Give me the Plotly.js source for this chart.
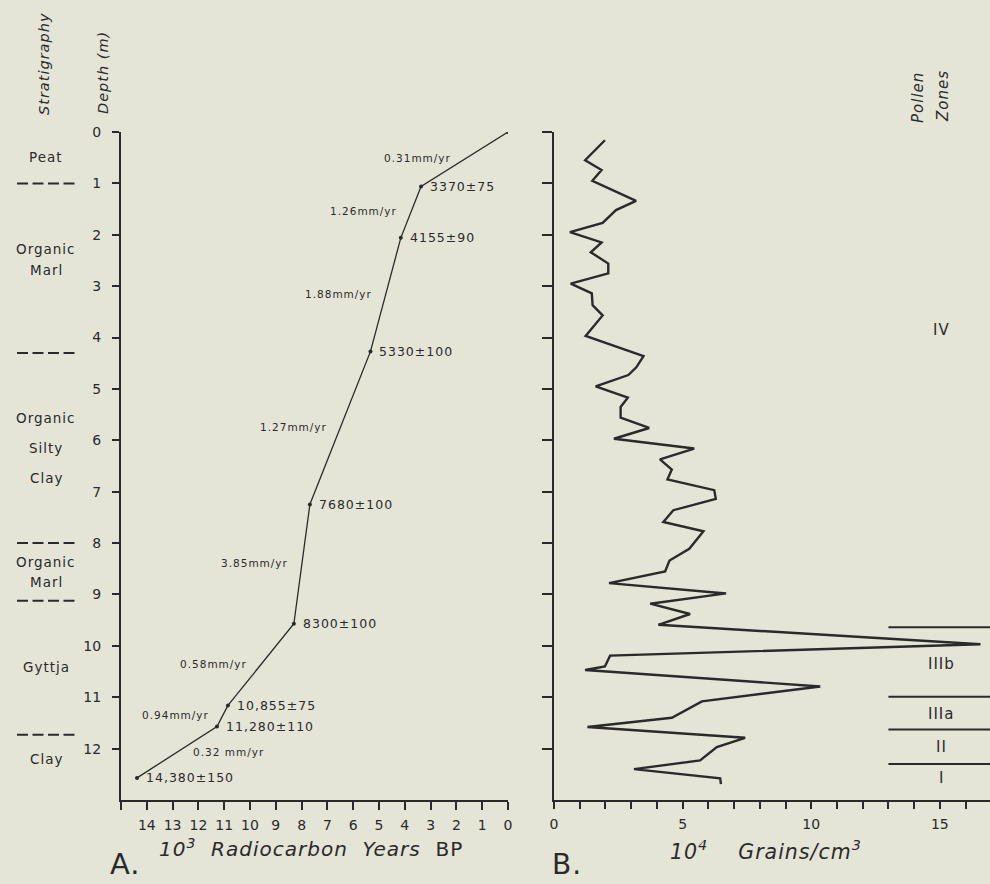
<!DOCTYPE html>
<html>
<head>
<meta charset="utf-8">
<script src="https://cdn.plot.ly/plotly-3.0.1.min.js"></script>
<style>
html,body{margin:0;padding:0;background:#e4e5d7;}
#chart{width:990px;height:884px;}
.annotation-text{letter-spacing:1px;}
</style>
</head>
<body>
<div id="chart"></div>
<script>
// ---------- Panel A: age-depth ----------
const dateAgesKyr = [0, 3.37, 4.155, 5.33, 7.68, 8.30, 10.855, 11.28, 14.38];
const dateDepthsM = [0, 1.06, 2.06, 4.27, 7.25, 9.57, 11.16, 11.57, 12.57];
const dateLabels = ["", "3370±75", "4155±90", "5330±100", "7680±100", "8300±100", "10,855±75", "11,280±110", "14,380±150"];
const rateLabels = ["0.31mm/yr", "1.26mm/yr", "1.88mm/yr", "1.27mm/yr", "3.85mm/yr", "0.58mm/yr", "0.94mm/yr", "0.32 mm/yr"];
const ageTicks = [15, 14, 13, 12, 11, 10, 9, 8, 7, 6, 5, 4, 3, 2, 1, 0];
const depthTicks = [0, 1, 2, 3, 4, 5, 6, 7, 8, 9, 10, 11, 12];

// Stratigraphy
const stratText  = ["Peat", "Organic", "Marl", "Organic", "Silty", "Clay", "Organic", "Marl", "Gyttja", "Clay"];
const stratDepth = [0.49, 2.27, 2.68, 5.57, 6.14, 6.73, 8.37, 8.75, 10.42, 12.2];
const stratBoundaries = [1.0, 4.3, 8.0, 9.12, 11.73];

// ---------- Panel B: pollen concentration ----------
const pollenDepth = [0.16, 0.55, 0.74, 0.95, 1.34, 1.52, 1.77, 1.95, 2.15, 2.34, 2.56, 2.75, 2.95, 3.14, 3.37, 3.57, 3.97,
  4.36, 4.58, 4.73, 4.95, 5.17, 5.35, 5.56, 5.76, 5.97, 6.16, 6.37, 6.57, 6.76, 6.97, 7.14, 7.36, 7.59, 7.77, 8.11, 8.34, 8.55,
  8.78, 8.98, 9.18, 9.38, 9.59, 9.97, 10.19, 10.40, 10.47, 10.79, 11.08, 11.40, 11.58, 11.79, 11.97, 12.23, 12.40, 12.58, 12.69];
const pollenConc = [1.98, 1.21, 1.85, 1.49, 3.19, 2.41, 1.89, 0.62, 1.85, 1.43, 2.11, 2.11, 0.65, 1.47, 1.50, 1.89, 1.23,
  3.48, 3.20, 2.89, 1.62, 2.87, 2.59, 2.59, 3.70, 2.33, 5.45, 4.12, 4.58, 4.41, 6.23, 6.29, 4.64, 4.25, 5.81, 5.26, 4.49, 4.32,
  2.14, 6.69, 3.74, 5.29, 4.06, 16.58, 2.18, 1.98, 1.21, 10.35, 5.75, 4.58, 1.30, 7.43, 6.33, 5.68, 3.11, 6.46, 6.49];
const concTicks = [0, 1, 2, 3, 4, 5, 6, 7, 8, 9, 10, 11, 12, 13, 14, 15, 16];
const concTickLabels = ["0", "", "", "", "", "5", "", "", "", "", "10", "", "", "", "", "15", ""];

// Pollen zones
const zoneBoundaries = [9.64, 10.99, 11.63, 12.30];
const zoneNames = ["IV", "IIIb", "IIIa", "II", "I"];
const zoneLabelDepth = [3.86, 10.35, 11.32, 11.96, 12.58];
const zoneStart = 13;

// ---------- styles ----------
const INK = "#2a2a2a";
const BG = "#e4e5d7";
const FONT = "DejaVu Sans, Liberation Sans, sans-serif";
const W = 990, H = 884;
const px = v => v / W;
const py = v => (H - v) / H;

const traces = [
  {
    x: dateAgesKyr, y: dateDepthsM, xaxis: "x", yaxis: "y",
    mode: "lines+markers", type: "scatter",
    line: {color: INK, width: 1.3},
    marker: {color: INK, size: 4},
    hoverinfo: "skip"
  },
  {
    x: pollenConc, y: pollenDepth, xaxis: "x2", yaxis: "y2",
    mode: "lines", type: "scatter",
    line: {color: INK, width: 2.4},
    hoverinfo: "skip"
  }
];

const annotations = [];
function note(o) {
  annotations.push(Object.assign({showarrow: false, xanchor: "center", yanchor: "middle"}, o));
}
// date labels
dateLabels.forEach((t, i) => {
  if (!t) return;
  note({x: dateAgesKyr[i], y: dateDepthsM[i], xref: "x", yref: "y", text: t,
    xanchor: "left", xshift: 7, font: {family: FONT, size: 12.5, color: INK}});
});
// rate labels at segment midpoints
rateLabels.forEach((t, i) => {
  const mx = (dateAgesKyr[i] + dateAgesKyr[i + 1]) / 2;
  const my = (dateDepthsM[i] + dateDepthsM[i + 1]) / 2;
  const last = i === rateLabels.length - 1;
  note({x: mx, y: my, xref: "x", yref: "y", text: t,
    xshift: last ? 52 : -47, yshift: last ? 0 : 1,
    font: {family: FONT, size: 10.5, color: INK}});
});
// stratigraphy labels
stratText.forEach((t, i) => {
  note({x: px(46), y: stratDepth[i], xref: "paper", yref: "y", text: t,
    font: {family: FONT, size: 13.5, color: INK}});
});
// zone labels
zoneNames.forEach((t, i) => {
  note({x: 15.05, y: zoneLabelDepth[i], xref: "x2", yref: "y2", text: t,
    font: {family: FONT, size: 15, color: INK}});
});
// column headers (rotated)
note({x: px(44), y: py(64), xref: "paper", yref: "paper", text: "<i>Stratigraphy</i>",
  textangle: -90, font: {family: FONT, size: 14.5, color: INK}});
note({x: px(103), y: py(73), xref: "paper", yref: "paper", text: "<i>Depth (m)</i>",
  textangle: -90, font: {family: FONT, size: 14.5, color: INK}});
note({x: px(918), y: py(98), xref: "paper", yref: "paper", text: "<i>Pollen</i>",
  textangle: -90, font: {family: FONT, size: 15, color: INK}});
note({x: px(943), y: py(96), xref: "paper", yref: "paper", text: "<i>Zones</i>",
  textangle: -90, font: {family: FONT, size: 15, color: INK}});
// axis titles
note({x: px(311), y: py(848), xref: "paper", yref: "paper",
  text: "<i>10<sup>3</sup>  Radiocarbon  Years</i>  BP",
  font: {family: FONT, size: 20, color: INK}});
note({x: px(766), y: py(850), xref: "paper", yref: "paper",
  text: "<i>10<sup>4</sup>    Grains/cm<sup>3</sup></i>",
  font: {family: FONT, size: 20.5, color: INK}});
note({x: px(108), y: py(864), xref: "paper", yref: "paper", text: "A.",
  xanchor: "left", font: {family: FONT, size: 29, color: INK}});
note({x: px(550), y: py(864), xref: "paper", yref: "paper", text: "B.",
  xanchor: "left", font: {family: FONT, size: 28, color: INK}});

const shapes = [];
stratBoundaries.forEach(d => {
  shapes.push({type: "line", xref: "paper", yref: "y", x0: px(17), x1: px(75), y0: d, y1: d,
    line: {color: INK, width: 2, dash: "11px,4.5px"}});
});
zoneBoundaries.forEach(d => {
  shapes.push({type: "line", xref: "x2", yref: "y2", x0: zoneStart, x1: 17, y0: d, y1: d,
    line: {color: INK, width: 2}});
});

const yDomain = [py(800), py(132)];
const axisCommon = {showline: true, linecolor: INK, linewidth: 2, ticks: "outside", tickcolor: INK,
  tickwidth: 2, showgrid: false, zeroline: false, fixedrange: true,
  tickfont: {family: FONT, size: 14, color: INK}};

const layout = {
  width: W, height: H,
  margin: {l: 0, r: 0, t: 0, b: 0},
  paper_bgcolor: BG, plot_bgcolor: BG,
  showlegend: false,
  xaxis: Object.assign({}, axisCommon, {domain: [px(121), px(508)], range: [15, 0], anchor: "y",
    tickmode: "array", tickvals: ageTicks, ticktext: ageTicks.map(v => v === 15 ? "" : String(v)),
    ticklen: 8, ticklabelstandoff: 3}),
  yaxis: Object.assign({}, axisCommon, {domain: yDomain, range: [13, 0], anchor: "x",
    tickmode: "array", tickvals: depthTicks, ticktext: depthTicks.map(String), ticklen: 7, ticklabelstandoff: 8}),
  xaxis2: Object.assign({}, axisCommon, {domain: [px(554), 1], range: [0, 16.95], anchor: "y2",
    tickmode: "array", tickvals: concTicks, ticktext: concTickLabels, ticklen: 7, ticklabelstandoff: 3}),
  yaxis2: Object.assign({}, axisCommon, {domain: yDomain, range: [13, 0], anchor: "x2",
    tickmode: "array", tickvals: depthTicks, showticklabels: false, ticklen: 10}),
  annotations: annotations,
  shapes: shapes
};

Plotly.newPlot("chart", traces, layout, {staticPlot: true, displayModeBar: false});
</script>
</body>
</html>
